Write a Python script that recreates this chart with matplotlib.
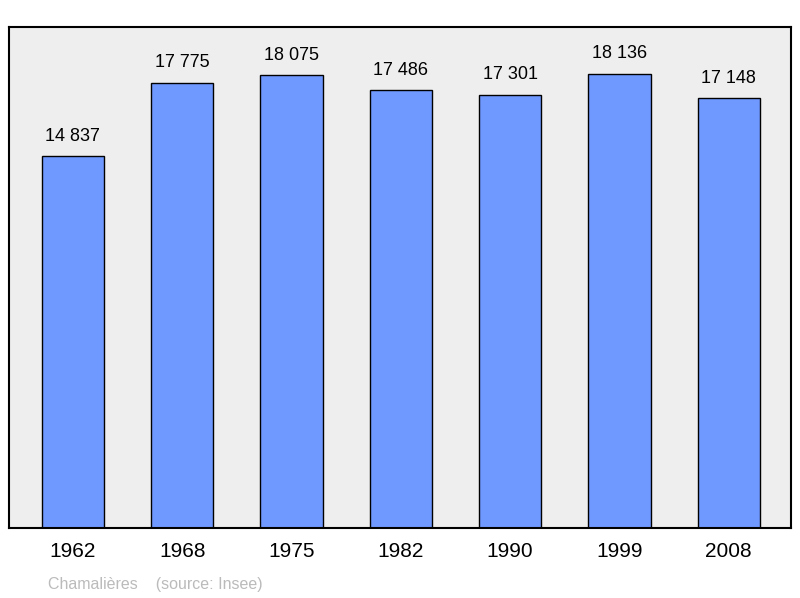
import matplotlib
matplotlib.use("Agg")
import matplotlib.pyplot as plt

plt.rcParams.update({"font.family": ["Liberation Sans", "DejaVu Sans"]})

years = ["1962", "1968", "1975", "1982", "1990", "1999", "2008"]
population = [14837, 17775, 18075, 17486, 17301, 18136, 17148]
value_labels = ["14 837", "17 775", "18 075", "17 486", "17 301", "18 136", "17 148"]

fig = plt.figure(figsize=(8.0, 5.98), dpi=100)
ax = fig.add_axes([9 / 800, 1 - 528 / 598, 782 / 800, 501 / 598])
ax.set_facecolor("#eeeeee")

xs = range(len(years))
ax.bar(xs, population, width=0.57, color="#7099ff", edgecolor="black", linewidth=1.0, zorder=2)
for x, v, lab in zip(xs, population, value_labels):
    ax.text(x, v + 450, lab, ha="center", va="bottom", fontsize=13)

ax.set_xlim(-0.585, 6.57)
ax.set_ylim(0, 20000)
ax.set_yticks([])
ax.set_xticks(list(xs))
ax.set_xticklabels(years, fontsize=15)
ax.tick_params(axis="x", length=0, pad=10)
for s in ax.spines.values():
    s.set_linewidth(1.5)

fig.text(48 / 800, 1 - 584 / 598, "Chamalières    (source: Insee)", fontsize=11.5,
         color="#bbbbbb", ha="left", va="center")

fig.savefig("out.png", dpi=100, facecolor="white")
